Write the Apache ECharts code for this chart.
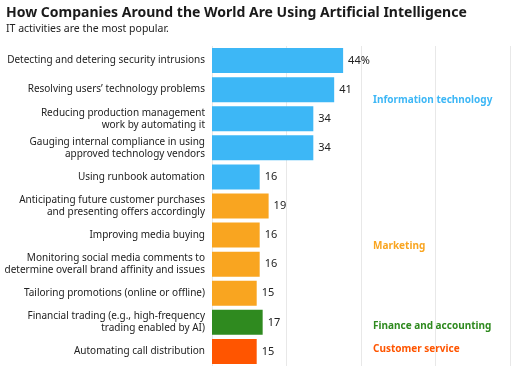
<!DOCTYPE html>
<html><head><meta charset="utf-8">
<script src="https://cdn.jsdelivr.net/npm/echarts@6/dist/echarts.min.js"></script>
<style>html,body{margin:0;padding:0;background:#fff}#c{width:512px;height:374px}</style>
</head><body><div id="c"></div>
<script>
const categories = [
  "Detecting and detering security intrusions",
  "Resolving users\u2019 technology problems",
  "Reducing production management\nwork by automating it",
  "Gauging internal compliance in using\napproved technology vendors",
  "Using runbook automation",
  "Anticipating future customer purchases\nand presenting offers accordingly",
  "Improving media buying",
  "Monitoring social media comments to\ndetermine overall brand affinity and issues",
  "Tailoring promotions (online or offline)",
  "Financial trading (e.g., high-frequency\ntrading enabled by AI)",
  "Automating call distribution"
];
const values = [44, 41, 34, 34, 16, 19, 16, 16, 15, 17, 15];
const groups = ["it","it","it","it","it","mk","mk","mk","mk","fa","cs"];
const groupColors = {it:"#3db7f6", mk:"#f9a520", fa:"#2f8a1f", cs:"#ff5500"};
const groupNames = {it:"Information technology", mk:"Marketing", fa:"Finance and accounting", cs:"Customer service"};
const xTicks = [0, 25, 50, 75, 100];

const font = "'Noto Sans', sans-serif";
const chart = echarts.init(document.getElementById('c'), null, {renderer:'canvas'});
chart.setOption({
  animation:false,
  title:[
    {text:"How Companies Around the World Are Using Artificial Intelligence", left:1, top:1,
     textStyle:{fontFamily:font, fontSize:14, fontWeight:'bold', color:'#1a1a1a'}},
    {text:"IT activities are the most popular.", left:1, top:19,
     textStyle:{fontFamily:font, fontSize:10.5, fontWeight:'normal', color:'#222'}}
  ],
  grid:{left:212, right:2, top:46, height:320, containLabel:false, outerBoundsMode:'none'},
  xAxis:{type:'value', min:xTicks[0], max:xTicks[xTicks.length-1], interval:25,
    axisLabel:{show:false}, axisLine:{show:false}, axisTick:{show:false},
    splitLine:{show:true, lineStyle:{color:'#e8e8e8', width:1}}},
  yAxis:{type:'category', data:categories, inverse:true,
    axisLine:{show:false}, axisTick:{show:false},
    axisLabel:{fontFamily:font, fontSize:10, color:'#222', lineHeight:12, margin:7, align:'right'}},
  series:[{
    type:'bar', barCategoryGap:'14%',
    data: values.map((v,i)=>({value:v, itemStyle:{color:groupColors[groups[i]]}})),
    label:{show:true, position:'right', distance:5, fontFamily:font, fontSize:11, color:'#222',
      formatter:p=> p.dataIndex===0 ? p.value + '%' : String(p.value)}
  }],
  graphic:[
    {type:'text', left:373, top:95, style:{text:groupNames.it, fill:'#3db7f6', font:"bold 10px 'Noto Sans', sans-serif"}},
    {type:'text', left:373, top:241, style:{text:groupNames.mk, fill:'#f9a520', font:"bold 10px 'Noto Sans', sans-serif"}},
    {type:'text', left:373, top:321, style:{text:groupNames.fa, fill:'#2f8a1f', font:"bold 10px 'Noto Sans', sans-serif"}},
    {type:'text', left:373, top:344, style:{text:groupNames.cs, fill:'#ff5500', font:"bold 10px 'Noto Sans', sans-serif"}}
  ]
});
</script></body></html>
